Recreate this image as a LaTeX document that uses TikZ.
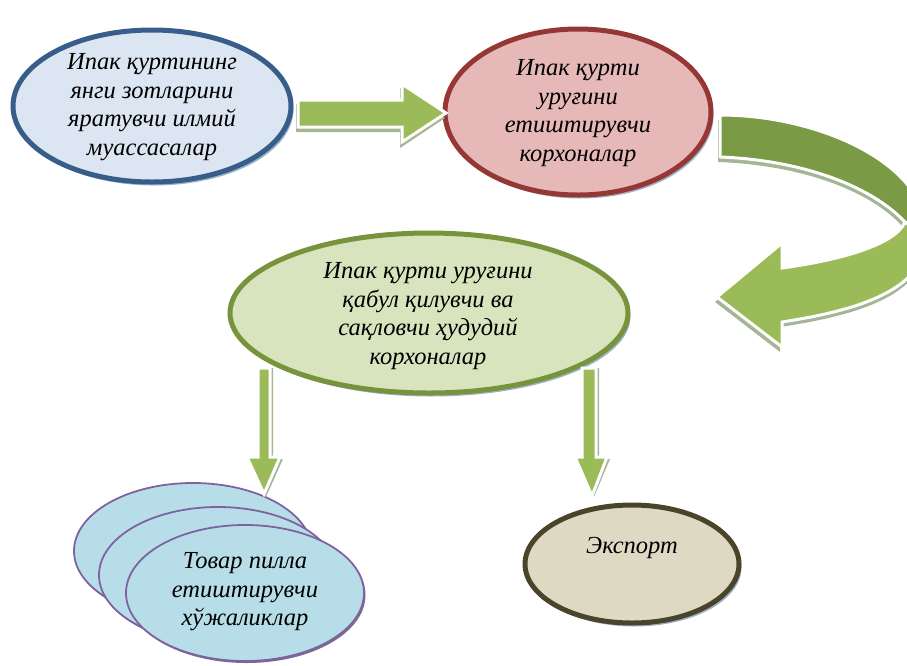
\documentclass[tikz,border=0pt]{standalone}
\usepackage{fontspec}
\setmainfont{Liberation Serif}
\usetikzlibrary{shapes.geometric,shadows}
\definecolor{bluefill}{HTML}{DCE6F2}
\definecolor{bluedraw}{HTML}{385D8A}
\definecolor{redfill}{HTML}{E6B9B8}
\definecolor{reddraw}{HTML}{953735}
\definecolor{greenfill}{HTML}{D7E4BD}
\definecolor{greendraw}{HTML}{77933C}
\definecolor{cyanfill}{HTML}{B7DEE8}
\definecolor{purpdraw}{HTML}{7F63A1}
\definecolor{expfill}{HTML}{DDD9C3}
\definecolor{expdraw}{HTML}{4A452A}
\definecolor{arrowgreen}{HTML}{9BBB59}
\definecolor{arrowdark}{HTML}{7A9A45}
\definecolor{arrowshadow}{HTML}{A7B597}
\definecolor{ellshadow}{HTML}{8CA5BC}
\begin{document}
\begin{tikzpicture}[x=1pt,y=-1pt,
  lbl/.style={font=\fontsize{24.5}{28.5}\selectfont\itshape, align=center, text=black, inner sep=0pt},
  ell/.style={ellipse, draw, line width=5pt, inner sep=0pt,
     drop shadow={shadow xshift=2.5pt, shadow yshift=-3.5pt, fill=ellshadow, opacity=0.85}},
  thinell/.style={ellipse, draw=purpdraw, fill=cyanfill, line width=1.8pt, inner sep=0pt,
     minimum width=238pt, minimum height=136pt,
     drop shadow={shadow xshift=1.5pt, shadow yshift=-2pt, fill=purpdraw!70!black, opacity=0.8}},
  blockarrow/.style={fill=arrowgreen, draw=white, line width=3pt, line join=miter},
  blockshadow/.style={fill=arrowshadow, draw=none}]
\useasboundingbox (0,0) rectangle (907,665);

% ---------- ellipses ----------
\node[ell, fill=bluefill, draw=bluedraw, minimum width=278pt, minimum height=152pt] (sci) at (152,106) {};
\node[ell, fill=redfill, draw=reddraw, minimum width=266pt, minimum height=166pt] (egg) at (578,112) {};
\node[ell, fill=greenfill, draw=greendraw, minimum width=398pt, minimum height=160pt] (reg) at (429,313) {};
\node[thinell] (farm1) at (193,551) {};
\node[thinell] (farm2) at (218,575) {};
\node[thinell] (farm3) at (245,593) {};
\node[ell, fill=expfill, draw=expdraw, minimum width=214pt, minimum height=118pt] (exp) at (632,564) {};

% ---------- labels ----------
\node[lbl] (sciT) at ([yshift=-1pt]sci.center) {Ипак қуртининг\\янги зотларини\\яратувчи илмий\\муассасалар};
\node[lbl] (eggT) at ([yshift=-1pt]egg.center) {Ипак қурти\\уруғини\\етиштирувчи\\корхоналар};
\node[lbl] (regT) at ([xshift=-1pt,yshift=-3pt]reg.center) {Ипак қурти уруғини\\қабул қилувчи ва\\сақловчи ҳудудий\\корхоналар};
\node[lbl] (farmT) at ([yshift=1pt]farm3.center) {Товар пилла\\етиштирувчи\\хўжаликлар};
\node[lbl] (expT) at ([yshift=16pt]exp.center) {Экспорт};

% ---------- straight block arrows ----------
% sci -> egg
\path[blockshadow] (296,104) -- (400,104) -- (400,88) -- (445,118) -- (400,148) -- (400,132) -- (296,132) -- cycle;
\path[blockarrow] (298,100) -- (402,100) -- (402,84) -- (446,113) -- (402,142) -- (402,127) -- (298,127) -- cycle;
% reg -> farm
\path[blockshadow] (261,368) -- (273,368) -- (273,459) -- (283,459) -- (266,497) -- (250,459) -- (261,459) -- cycle;
\path[blockarrow] (258,368) -- (270,368) -- (270,457) -- (280,457) -- (264,494) -- (247,457) -- (258,457) -- cycle;
% reg -> exp
\path[blockshadow] (585,368) -- (599,368) -- (599,459) -- (610,459) -- (594,497) -- (578,459) -- (585,459) -- cycle;
\path[blockarrow] (582,368) -- (596,368) -- (596,457) -- (607,457) -- (592,496) -- (575,457) -- (582,457) -- cycle;

% ---------- curved arrow egg -> reg ----------
\path[blockshadow] (718,120) .. controls (820,120) and (932,170) .. (927,245)
   .. controls (922,295) and (860,315) .. (780,327) -- (780,352) -- (715,302) -- (780,248) -- (780,273)
   .. controls (840,265) and (895,250) .. (903,227)
   .. controls (870,190) and (800,165) .. (718,162) -- cycle;
\path[fill=arrowdark, draw=white, line width=3pt, line join=round]
   (720,115) .. controls (820,115) and (932,165) .. (927,240)
   -- (905,222) .. controls (870,185) and (800,160) .. (720,157) -- cycle;
\path[blockarrow]
   (927,240) .. controls (922,290) and (860,310) .. (782,322)
   -- (782,347) -- (717,297) -- (782,243) -- (782,268)
   .. controls (840,260) and (895,245) .. (905,222) -- cycle;
\end{tikzpicture}
\end{document}
